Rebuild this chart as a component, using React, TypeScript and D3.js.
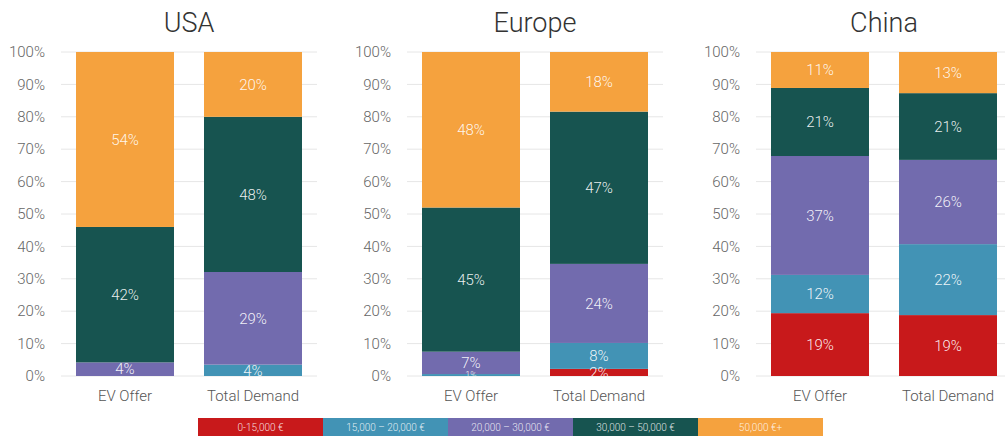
import React from "react";
import * as d3 from "d3";

const regions = ["USA", "Europe", "China"];
const bars = ["EV Offer", "Total Demand"];
const segments = ["0-15,000 €", "15,000 – 20,000 €", "20,000 – 30,000 €", "30,000 – 50,000 €", "50,000 €+"];
const colors = ["#c8191b", "#4293b5", "#726bae", "#175450", "#f5a23e"];
const yTicks = [0, 10, 20, 30, 40, 50, 60, 70, 80, 90, 100];

// values per segment (bottom to top), percent
const usaEV = [0, 0, 4.2, 41.8, 54];
const usaDemand = [0, 3.5, 28.6, 47.9, 20];
const europeEV = [0, 0.6, 6.9, 44.5, 48];
const europeDemand = [2.2, 8.0, 24.4, 47.0, 18.4];
const chinaEV = [19.4, 11.8, 36.7, 21.0, 11.1];
const chinaDemand = [18.8, 21.9, 26.0, 20.6, 12.7];

const regionData = [
  [usaEV, usaDemand],
  [europeEV, europeDemand],
  [chinaEV, chinaDemand],
];

const W = 1005;
const H = 436;
const plotTop = 52;
const plotBottom = 376;
const panelX = [61, 407, 756];
const panelW = 256;

export default function App() {
  const y = d3.scaleLinear().domain([0, 100]).range([plotBottom, plotTop]);
  const font = "Roboto, 'Open Sans', sans-serif";
  const legendX = d3.scaleBand<number>().domain(d3.range(5)).range([198, 823]);

  return (
    <svg width={W} height={H} style={{ position: "absolute", left: 0, top: 0 }} fontFamily={font}>
      <defs>
        {regions.map((r, i) => (
          <clipPath id={`clip${i}`} key={r}>
            <rect x={panelX[i]} y={plotTop - 20} width={panelW} height={plotBottom - plotTop + 20} />
          </clipPath>
        ))}
      </defs>
      <rect width={W} height={H} fill="#fff" />
      {regions.map((region, ri) => {
        const x = d3.scaleBand<string>().domain(bars).range([panelX[ri], panelX[ri] + panelW]).paddingInner(30 / 128).paddingOuter(15 / 128);
        const cx = panelX[ri] + panelW / 2;
        return (
          <g key={region}>
            <text x={cx} y={32} textAnchor="middle" fontSize={27} fontWeight={300} fill="#333">{region}</text>
            {yTicks.map((t) => (
              <g key={t}>
                <line x1={panelX[ri]} x2={panelX[ri] + panelW} y1={y(t)} y2={y(t)} stroke="#e6e6e6" strokeWidth={1} />
                <text x={panelX[ri] - 16} y={y(t)} dy="0.35em" textAnchor="end" fontSize={15} fontWeight={300} fill="#666">{t}%</text>
              </g>
            ))}
            {bars.map((b, bi) => {
              const vals = regionData[ri][bi];
              const stack = d3.cumsum(vals);
              const bx = x(b)!;
              const bw = x.bandwidth();
              return (
                <g key={b}>
                  {vals.map((v, si) => {
                    if (v <= 0) return null;
                    const y0 = y(stack[si] - v);
                    const y1 = y(stack[si]);
                    return <rect key={si} x={bx} y={y1} width={bw} height={y0 - y1} fill={colors[si]} />;
                  })}
                  <g clipPath={`url(#clip${ri})`}>
                    {vals.map((v, si) => {
                      if (v <= 0) return null;
                      const y0 = y(stack[si] - v);
                      const y1 = y(stack[si]);
                      const h = y0 - y1;
                      const fs = h < 4 ? 9 : 15;
                      return (
                        <text key={si} x={bx + bw / 2} y={(y0 + y1) / 2} dy="0.35em" textAnchor="middle" fontSize={fs} fontWeight={300} fill="#fff" fillOpacity={0.92}>
                          {Math.round(v)}%
                        </text>
                      );
                    })}
                  </g>
                  <text x={bx + bw / 2} y={396} dy="0.35em" textAnchor="middle" fontSize={15} fontWeight={300} fill="#555">{b}</text>
                </g>
              );
            })}
          </g>
        );
      })}
      {segments.map((s, i) => (
        <g key={s}>
          <rect x={legendX(i)!} y={418} width={legendX.bandwidth()} height={18} fill={colors[i]} />
          <text x={legendX(i)! + legendX.bandwidth() / 2} y={427} dy="0.35em" textAnchor="middle" fontSize={10} fontWeight={300} fill="#fff" fillOpacity={0.85}>{s}</text>
        </g>
      ))}
    </svg>
  );
}
